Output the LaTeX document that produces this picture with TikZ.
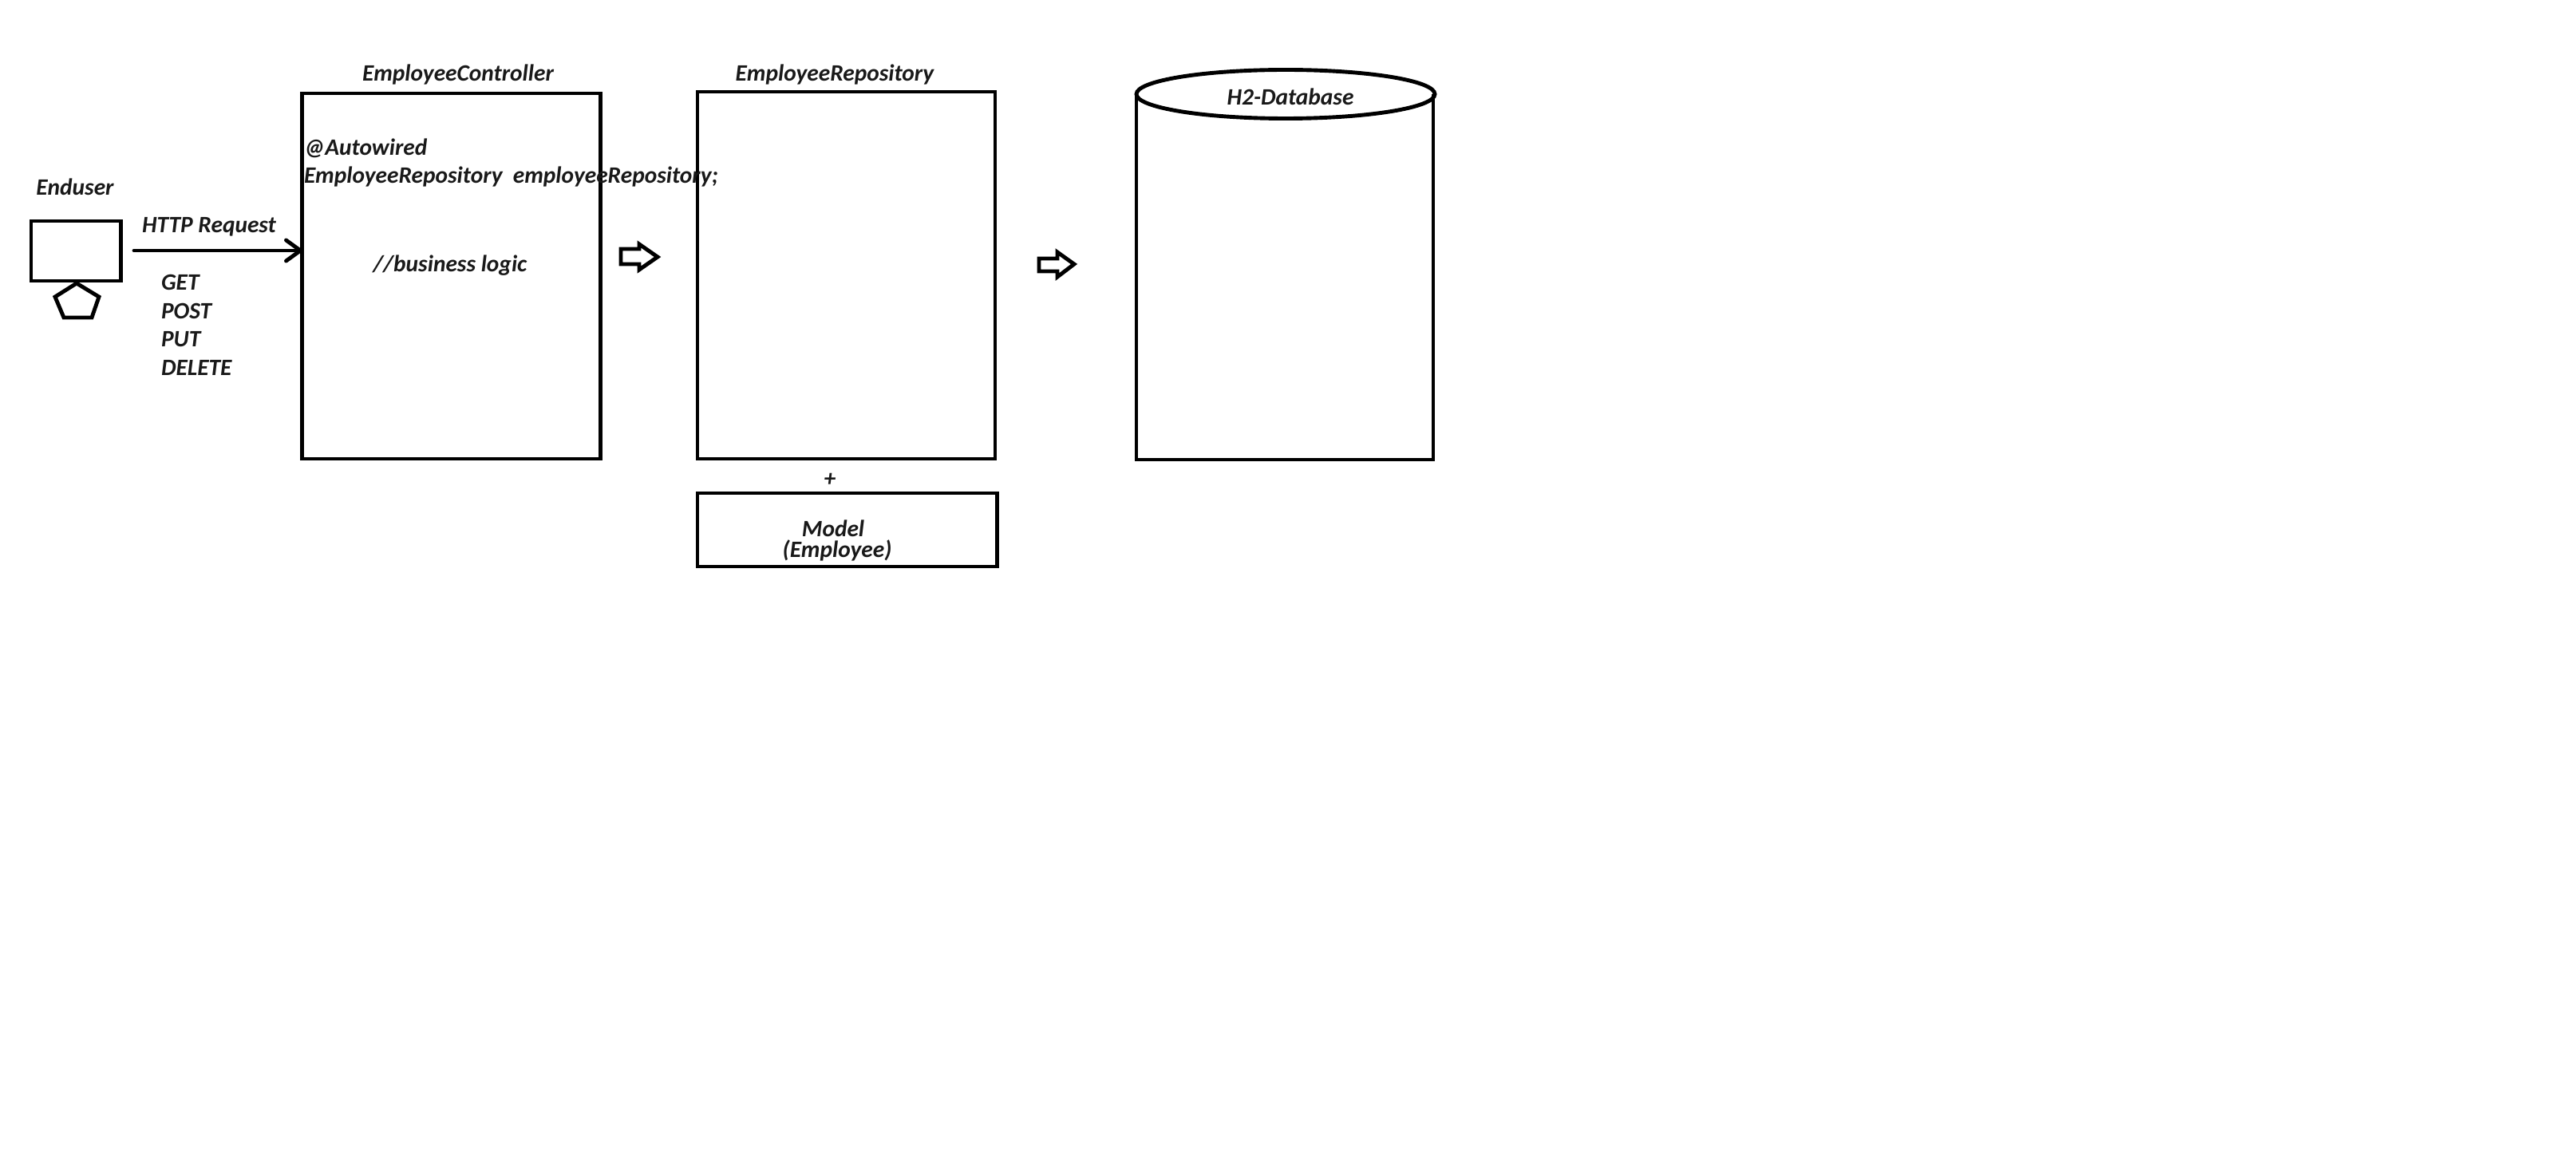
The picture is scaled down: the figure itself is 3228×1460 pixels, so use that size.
\documentclass[tikz,border=0pt]{standalone}
\usepackage{fontspec}
\setmainfont{Carlito}
\usetikzlibrary{shapes.geometric}
\tikzset{
  x=0.5pt,y=-0.5pt,
  box/.style={draw=black,line width=2.45pt,fill=none,rectangle,inner sep=0pt,outer sep=0pt,minimum width=#1},
  lbl/.style={inner sep=0pt,outer sep=0pt,font=\fontsize{14.7}{16}\selectfont\bfseries\itshape,text=black!90},
  shape line/.style={draw=black,line width=2.45pt,line join=miter},
  conn/.style={draw=black,line width=2.45pt,line cap=round}
}
\begin{document}
\begin{tikzpicture}
\useasboundingbox[fill=white] (0,0) rectangle (3228,1460);
% boxes
\node[box=56.25pt,minimum height=37.5pt,anchor=north west] (monitor) at (39,277) {};
\node[box=187pt,minimum height=229pt,anchor=north west] (controller) at (378.5,117) {};
\node[box=186.5pt,minimum height=230pt,anchor=north west] (repository) at (874,115) {};
\node[box=187.75pt,minimum height=46pt,anchor=north west] (model) at (874,618) {};
% end user pentagon
\draw[shape line] (96,355) -- (124,372) -- (115,398) -- (80,398) -- (69,372) -- cycle;
% cylinder
\coordinate (dbtl) at (1424,118);
\coordinate (dbtr) at (1796,118);
\coordinate (dbbl) at (1424,576);
\coordinate (dbbr) at (1796,576);
\draw[shape line] (dbtl) -- (dbbl) -- (dbbr) -- (dbtr);
\node[draw=black,line width=2.45pt,ellipse,inner sep=0pt,outer sep=0pt,minimum width=187pt,minimum height=30.5pt] (dbtop) at (1611,118) {};
% connector
\coordinate (reqstart) at (168,314);
\coordinate (reqend) at ([xshift=-1pt]controller.west |- reqstart);
\draw[conn] (reqstart) -- (reqend);
\draw[conn,line join=miter] ([shift={(-18,-13)}]reqend) -- (reqend) -- ([shift={(-18,13)}]reqend);
% hollow arrows
\draw[shape line] (778,312) -- (801,312) -- (801,306) -- (824,322) -- (801,338) -- (801,331) -- (778,331) -- cycle;
\draw[shape line] (1302,324) -- (1325,324) -- (1325,316) -- (1346,331) -- (1325,347) -- (1325,340) -- (1302,340) -- cycle;
% labels
\node[lbl] (t1) at (574,94) {EmployeeController};
\node[lbl] (t2) at (1046,94) {EmployeeRepository};
\node[lbl] (t3) at (1617,121) {H2-Database};
\node[lbl] (t4) at (94,234) {Enduser};
\node[lbl] (t5) at (262,284) {HTTP Request};
\node[lbl,anchor=west] (t6) at (202,354) {GET};
\node[lbl,anchor=west] (t7) at (202,390) {POST};
\node[lbl,anchor=west] (t8) at (202,425) {PUT};
\node[lbl,anchor=west] (t9) at (202,461) {DELETE};
\node[lbl,anchor=west] (t10) at (381,186) {@Autowired};
\node[lbl,anchor=west] (t11) at (381,222) {EmployeeRepository\ \ employeeRepository;};
\node[lbl] (t12) at (564,333) {//business logic};
\node[lbl] (t13) at (1040,601) {+};
\node[lbl] (t14) at (1044,662) {Model};
\node[lbl] (t15) at (1049,690) {(Employee)};
\end{tikzpicture}
\end{document}
